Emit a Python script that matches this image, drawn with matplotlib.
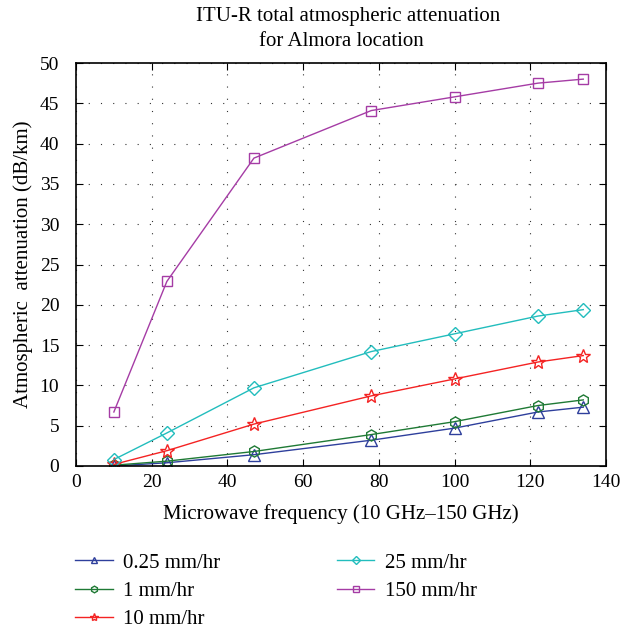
import matplotlib
matplotlib.use('Agg')
import matplotlib.pyplot as plt

# Frequencies (GHz) and attenuation (dB/km) per rain rate
freq = [10, 24, 47, 78, 100, 122, 134]
att_025 = [0.0, 0.4, 1.4, 3.2, 4.7, 6.7, 7.3]
att_1 = [0.1, 0.6, 1.8, 3.9, 5.5, 7.5, 8.2]
att_10 = [0.2, 1.9, 5.2, 8.7, 10.8, 12.9, 13.7]
att_25 = [0.8, 4.1, 9.7, 14.2, 16.4, 18.6, 19.4]
att_150 = [6.7, 22.9, 38.2, 44.1, 45.8, 47.5, 48.0]
labels = ['0.25 mm/hr', '1 mm/hr', '10 mm/hr', '25 mm/hr', '150 mm/hr']

plt.rcParams['font.family'] = ['Liberation Serif', 'DejaVu Serif']
plt.rcParams['font.size'] = 14

fig = plt.figure(figsize=(6.3, 6.31), dpi=100)
# axes box in pixels: left 76, right 606, top 63, bottom 466
ax = fig.add_axes([76 / 630, 1 - 466 / 631, 530 / 630, 403 / 631])

series = [
    (att_025, '#2e3f9c', '^', 8),
    (att_1, '#1f7a35', 'h', 8),
    (att_10, '#f42323', '*', 10),
    (att_25, '#22bdbd', 'D', 7),
    (att_150, '#a53ca5', 's', 6.5),
]
for (vals, color, marker, ms), lab in zip(series, labels):
    ax.plot(freq, vals, color=color, marker=marker, markersize=ms,
            markerfacecolor='none', markeredgewidth=1.0, linewidth=1.0, label=lab)

ax.set_xlim(0, 140)
ax.set_ylim(0, 50)
ax.set_xticks(range(0, 141, 20))
ax.set_yticks(range(0, 51, 5))
ax.grid(True, linestyle=(0, (1, 10)), color='#333333', linewidth=0.8)
ax.tick_params(direction='in', top=True, right=True, length=5, labelsize=14)
ax.tick_params(axis='x', pad=6)
ax.tick_params(axis='y', pad=12)
for s in ax.spines.values():
    s.set_linewidth(1.2)

fig.text(348 / 630, 1 - 21 / 631, 'ITU-R total atmospheric attenuation',
         ha='center', va='baseline', fontsize=15)
fig.text(341 / 630, 1 - 46 / 631, 'for Almora location',
         ha='center', va='baseline', fontsize=15)
ax.set_xlabel('Microwave frequency (10 GHz–150 GHz)', fontsize=15, labelpad=9)
ax.set_ylabel('Atmospheric  attenuation (dB/km)', fontsize=15, labelpad=5)

handles, labs = ax.get_legend_handles_labels()
fig.legend(handles, labs, ncol=2, frameon=False, loc='upper left',
           bbox_to_anchor=(75 / 630, 1 - 553 / 631), borderpad=0, borderaxespad=0,
           columnspacing=5.6, handlelength=1.8, handletextpad=0.5,
           labelspacing=0.42, fontsize=15, markerscale=0.6)

fig.savefig('out.png', dpi=100)
